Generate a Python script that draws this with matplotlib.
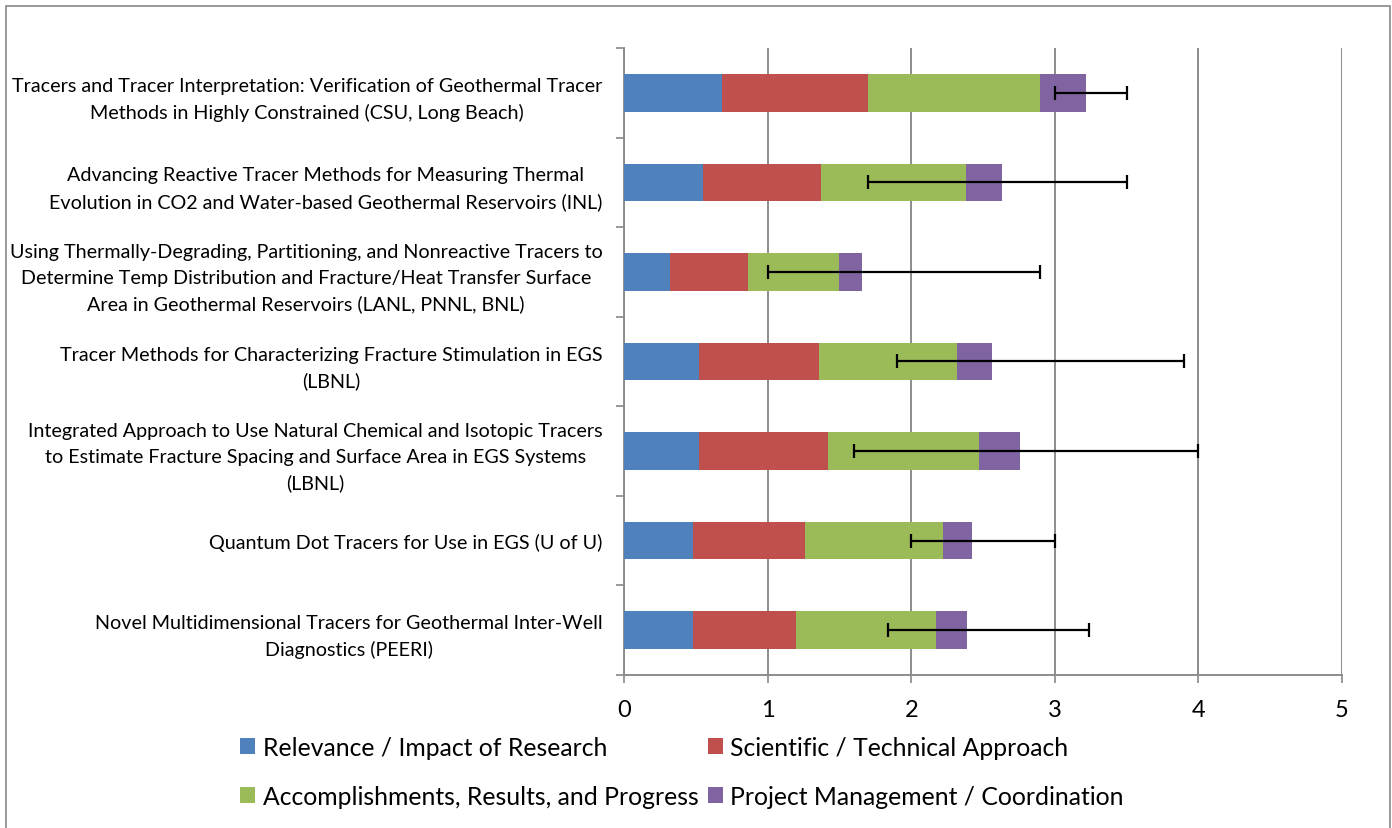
import matplotlib
matplotlib.use("Agg")
import matplotlib.pyplot as plt
import numpy as np

# project labels, top to bottom
projects = [
    "Tracers and Tracer Interpretation: Verification of Geothermal Tracer\nMethods in Highly Constrained (CSU, Long Beach)",
    "Advancing Reactive Tracer Methods for Measuring Thermal\nEvolution in CO2 and Water-based Geothermal Reservoirs (INL)",
    "Using Thermally-Degrading, Partitioning, and Nonreactive Tracers to\nDetermine Temp Distribution and Fracture/Heat Transfer Surface\nArea in Geothermal Reservoirs (LANL, PNNL, BNL)",
    "Tracer Methods for Characterizing Fracture Stimulation in EGS\n(LBNL)",
    "Integrated Approach to Use Natural Chemical and Isotopic Tracers\nto Estimate Fracture Spacing and Surface Area in EGS Systems\n(LBNL)",
    "Quantum Dot Tracers for Use in EGS (U of U)",
    "Novel Multidimensional Tracers for Geothermal Inter-Well\nDiagnostics (PEERI)",
]

# weighted criterion scores
relevance = [0.68, 0.55, 0.32, 0.52, 0.52, 0.48, 0.48]
approach = [1.02, 0.82, 0.54, 0.84, 0.90, 0.78, 0.72]
accomplish = [1.20, 1.01, 0.64, 0.96, 1.05, 0.96, 0.97]
management = [0.32, 0.25, 0.16, 0.24, 0.29, 0.20, 0.22]

# error bar ends (min / max)
err_low = [3.00, 1.70, 1.00, 1.90, 1.60, 2.00, 1.84]
err_high = [3.50, 3.50, 2.90, 3.90, 4.00, 3.00, 3.24]

series_names = ["Relevance / Impact of Research", "Scientific / Technical Approach",
                "Accomplishments, Results, and Progress", "Project Management / Coordination"]
colors = ["#4F81BD", "#C0504D", "#9BBB59", "#8064A2"]
xticks = [0, 1, 2, 3, 4, 5]


def main():
    plt.rcParams['font.family'] = ['Lato', 'DejaVu Sans']
    fig = plt.figure(figsize=(13.92, 8.29), dpi=100)
    ax = fig.add_axes([0.4483, 0.1846, 0.5158, 0.7563])

    y = np.arange(len(projects))
    series = [relevance, approach, accomplish, management]
    left = np.zeros(len(projects))
    bars = []
    for vals, name, c in zip(series, series_names, colors):
        b = ax.barh(y, vals, left=left, height=0.42, color=c, label=name, zorder=3)
        bars.append(b)
        left = left + np.array(vals)

    total = left
    xerr = [total - np.array(err_low), np.array(err_high) - total]
    ax.errorbar(total, y, xerr=xerr, fmt='none', ecolor='black', elinewidth=1.6,
                capsize=5, capthick=1.6, zorder=4)

    ax.set_xlim(0, 5)
    ax.set_ylim(len(projects) - 0.5, -0.5)
    ax.set_xticks(xticks)
    ax.set_xticklabels([str(t) for t in xticks], fontsize=17)
    ax.set_yticks(y)
    ax.set_yticklabels(projects, fontsize=14.2, ha='right', multialignment='center',
                       linespacing=1.6)
    ax.set_yticks(np.arange(len(projects) + 1) - 0.5, minor=True)
    ax.tick_params(axis='y', which='major', length=0, pad=15.5)
    ax.tick_params(axis='y', which='minor', length=6, color='#888888', width=1.2)
    ax.tick_params(axis='x', length=6, color='#888888', width=1.2, pad=11)

    ax.grid(axis='x', color='#8c8c8c', linewidth=1.4, zorder=0)
    for s in ['top', 'right']:
        ax.spines[s].set_visible(False)
    for s in ['left', 'bottom']:
        ax.spines[s].set_color('#8c8c8c')
        ax.spines[s].set_linewidth(1.4)

    handles = [bars[0], bars[2], bars[1], bars[3]]
    labels = [series_names[0], series_names[2], series_names[1], series_names[3]]
    fig.legend(handles, labels, loc='center', bbox_to_anchor=(0.49, 0.068), ncol=2,
               frameon=False, fontsize=17.8, handlelength=0.6, handleheight=0.6,
               handletextpad=0.3, columnspacing=0.4, labelspacing=1.05)

    fig.add_artist(plt.Rectangle((0.0045, -0.01), 0.9943, 1.0016, transform=fig.transFigure,
                                 fill=False, edgecolor='#888888', linewidth=1.2))

    fig.savefig('out.png', dpi=100)


if __name__ == "__main__":
    main()
